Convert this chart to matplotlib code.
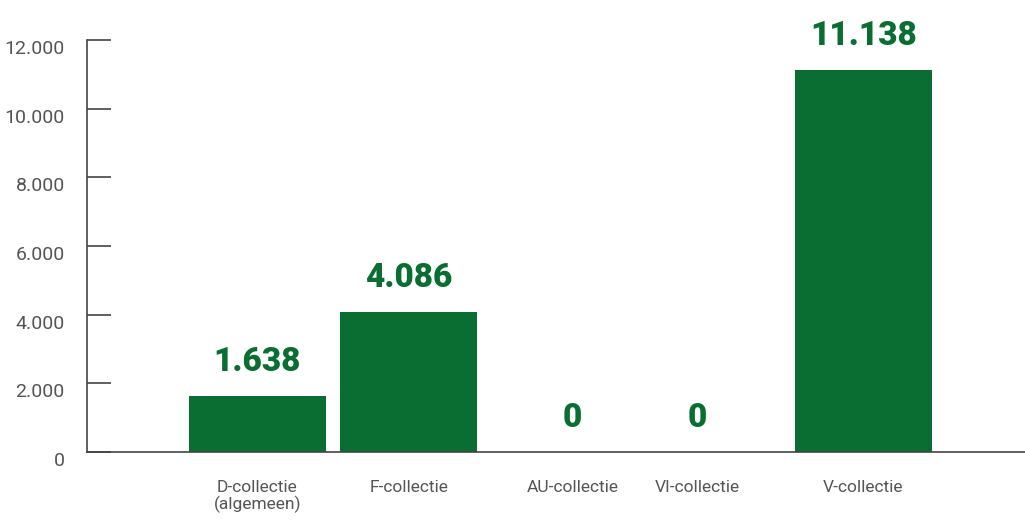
import matplotlib.pyplot as plt
import matplotlib.ticker as ticker
from matplotlib.transforms import ScaledTranslation

# ---------------------- Data ----------------------
categories = ['D-collectie\n(algemeen)', 'F-collectie', 'AU-collectie', 'VI-collectie', 'V-collectie']
values = [1638, 4086, 0, 0, 11138]
value_labels = ['1.638', '4.086', '0', '0', '11.138']
y_ticks = [0, 2000, 4000, 6000, 8000, 10000, 12000]

# slot positions (the two empty categories sit a bit off the regular grid)
x_pos = [0, 1, 2.08, 2.9, 4]

green = '#0a6e33'
grey = '#444444'

plt.rcParams.update({
    'font.family': ['Roboto', 'DejaVu Sans'],
    'font.size': 13,
})

fig = plt.figure(figsize=(10.25, 5.2), dpi=100)
ax = fig.add_axes([87 / 1025, 1 - 452 / 520, 1 - 87 / 1025, (452 - 40) / 520])

ax.bar(x_pos, values, width=0.904, color=green, zorder=2)

for x, v, lab in zip(x_pos, values, value_labels):
    ax.annotate(lab, (x, v), xytext=(0, 18), textcoords='offset points',
                ha='center', va='baseline', color=green,
                fontsize=24, fontweight='black')

ax.set_ylim(0, 12000)
ax.set_xlim(-1.125, 5.066)
ax.set_yticks(y_ticks)
ax.yaxis.set_major_formatter(ticker.FuncFormatter(lambda v, p: f'{int(v):,}'.replace(',', '.')))
ax.set_xticks(x_pos)
ax.set_xticklabels(categories, linespacing=1.1)

for s in ['top', 'right']:
    ax.spines[s].set_visible(False)
for s in ['left', 'bottom']:
    ax.spines[s].set_color(grey)
    ax.spines[s].set_linewidth(1.2)

ax.tick_params(axis='y', direction='in', length=17, width=1.2, color=grey,
               labelcolor='#555555', labelsize=14, pad=16)
ax.tick_params(axis='x', length=0, labelcolor='#555555', labelsize=12.5, pad=20)

# shift y labels down a little like the original
offset = ScaledTranslation(0, -7 / 100, fig.dpi_scale_trans)
for lbl in ax.get_yticklabels():
    lbl.set_transform(lbl.get_transform() + offset)

fig.savefig('out.png', dpi=100)
